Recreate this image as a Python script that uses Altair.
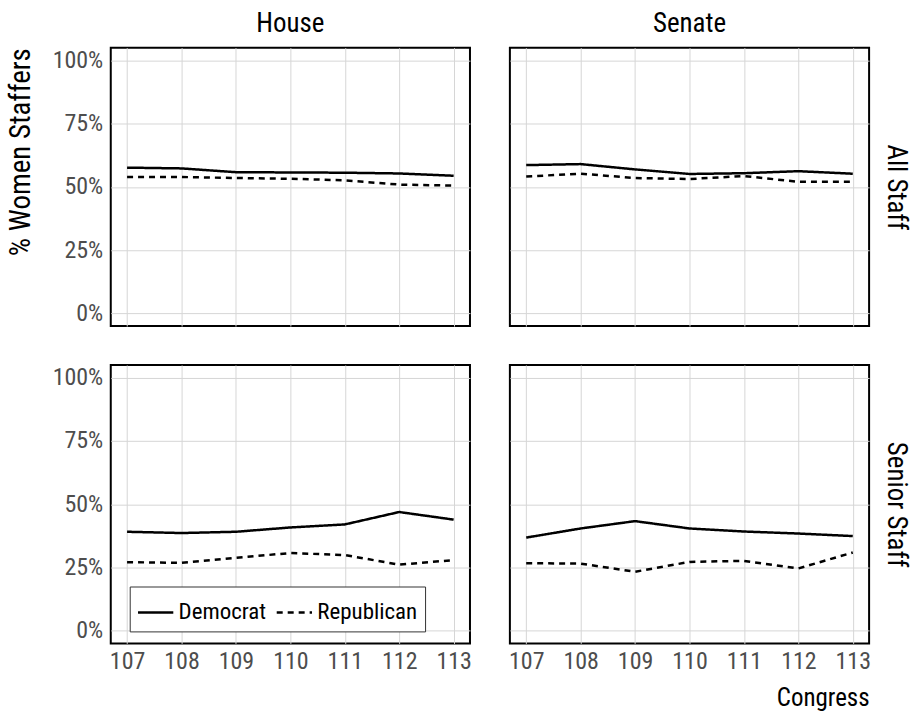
import altair as alt
import pandas as pd

# Congress sessions on the x axis
congress = [107, 108, 109, 110, 111, 112, 113]
parties = ["Democrat", "Republican"]

# Share of women among staffers, by chamber / staff level / party
house_all_dem = [0.576, 0.573, 0.558, 0.557, 0.556, 0.553, 0.544]
house_all_rep = [0.539, 0.539, 0.535, 0.532, 0.526, 0.509, 0.505]
senate_all_dem = [0.586, 0.590, 0.569, 0.551, 0.554, 0.562, 0.552]
senate_all_rep = [0.541, 0.552, 0.535, 0.531, 0.543, 0.520, 0.520]
house_senior_dem = [0.391, 0.386, 0.391, 0.408, 0.420, 0.469, 0.439]
house_senior_rep = [0.271, 0.268, 0.288, 0.307, 0.299, 0.261, 0.279]
senate_senior_dem = [0.368, 0.404, 0.433, 0.404, 0.392, 0.384, 0.374]
senate_senior_rep = [0.267, 0.265, 0.233, 0.272, 0.276, 0.246, 0.309]

series = {
    ("House", "All Staff"): (house_all_dem, house_all_rep),
    ("Senate", "All Staff"): (senate_all_dem, senate_all_rep),
    ("House", "Senior Staff"): (house_senior_dem, house_senior_rep),
    ("Senate", "Senior Staff"): (senate_senior_dem, senate_senior_rep),
}

rows = []
for (chamber, staff), (dem, rep) in series.items():
    for party, vals in zip(parties, (dem, rep)):
        for c, v in zip(congress, vals):
            rows.append({"chamber": chamber, "staff": staff, "party": party,
                         "congress": c, "share": v})
df = pd.DataFrame(rows)

FONT = "Roboto Condensed, Roboto"
TICK_FS = 24
LEGEND_FS = 23
STRIP_FS = 27
ROW_FS = 27
YTITLE_FS = 29
XTITLE_FS = 25
W, H = 360, 279

x_scale = alt.Scale(domain=[106.7, 113.3], nice=False, zero=False)
y_scale = alt.Scale(domain=[-0.05, 1.05], nice=False, zero=False)
dash_scale = alt.Scale(domain=parties, range=[[1, 0], [6, 5]])


def panel(chamber, staff, show_x=False, show_y=False, x_title=False,
          y_title=False, top_title=None, row_label=None, legend=False):
    sub = df[(df.chamber == chamber) & (df.staff == staff)]

    x_axis = dict(values=congress, format="d", labels=show_x, ticks=False,
                  domain=False, grid=True, labelPadding=6)
    if x_title:
        x_axis.update(title="Congress", titleAnchor="end", titlePadding=12,
                      titleFontSize=XTITLE_FS)
    else:
        x_axis.update(title=None)

    y_axis = dict(values=[0, 0.25, 0.5, 0.75, 1.0], format=".0%",
                  labels=show_y, ticks=False, domain=False, grid=True,
                  labelPadding=8)
    if y_title:
        y_axis.update(title="% Women Staffers", titleAnchor="end",
                      titlePadding=17, titleFontSize=YTITLE_FS)
    else:
        y_axis.update(title=None)

    if legend:
        leg = alt.Legend(
            title=None, orient="none", legendX=19, legendY=222,
            direction="horizontal", symbolType="stroke", symbolSize=1250,
            symbolStrokeWidth=2.5, symbolStrokeColor="black",
            labelFont=FONT, labelFontSize=LEGEND_FS, labelColor="black",
            strokeColor="#333333", fillColor="white", padding=7,
            columnPadding=5, labelOffset=4,
        )
    else:
        leg = None

    line = alt.Chart(sub).mark_line(color="black", strokeWidth=2.5).encode(
        x=alt.X("congress:Q", scale=x_scale, axis=alt.Axis(**x_axis)),
        y=alt.Y("share:Q", scale=y_scale, axis=alt.Axis(**y_axis)),
        strokeDash=alt.StrokeDash("party:N", scale=dash_scale, legend=leg),
    )

    chart = line
    if row_label:
        # invisible layer carrying a right-hand axis used as the row label
        side = alt.Chart(sub).mark_rule(strokeOpacity=0).encode(
            y=alt.Y("share:Q", scale=y_scale, axis=alt.Axis(
                orient="right", title=row_label, labels=False, ticks=False,
                domain=False, grid=False, titleAngle=90, titlePadding=12,
                titleBaseline="bottom", titleFontSize=ROW_FS)),
        )
        chart = alt.layer(line, side).resolve_axis(y="independent")

    props = dict(width=W, height=H)
    if top_title:
        props["title"] = alt.TitleParams(top_title, font=FONT,
                                         fontSize=STRIP_FS, color="black",
                                         fontWeight="normal", offset=10)
    return chart.properties(**props)


tl = panel("House", "All Staff", show_y=True, y_title=True, top_title="House")
tr = panel("Senate", "All Staff", top_title="Senate", row_label="All Staff")
bl = panel("House", "Senior Staff", show_x=True, show_y=True, legend=True)
br = panel("Senate", "Senior Staff", show_x=True, x_title=True,
           row_label="Senior Staff")

chart = alt.concat(
    tl, tr, bl, br, columns=2, spacing={"row": 37, "column": 34}
).resolve_legend(
    strokeDash="independent"
).configure_view(
    stroke="black", strokeWidth=2
).configure_axis(
    gridColor="#d6d6d6", gridWidth=1,
    labelFont=FONT, labelFontSize=TICK_FS, labelColor="#4d4d4d",
    titleFont=FONT, titleColor="black", titleFontWeight="normal",
).properties(
    padding={"left": 5, "top": 8, "right": 5, "bottom": 5}
)

chart.save("out.html", embed_options={"renderer": "svg", "actions": False})
